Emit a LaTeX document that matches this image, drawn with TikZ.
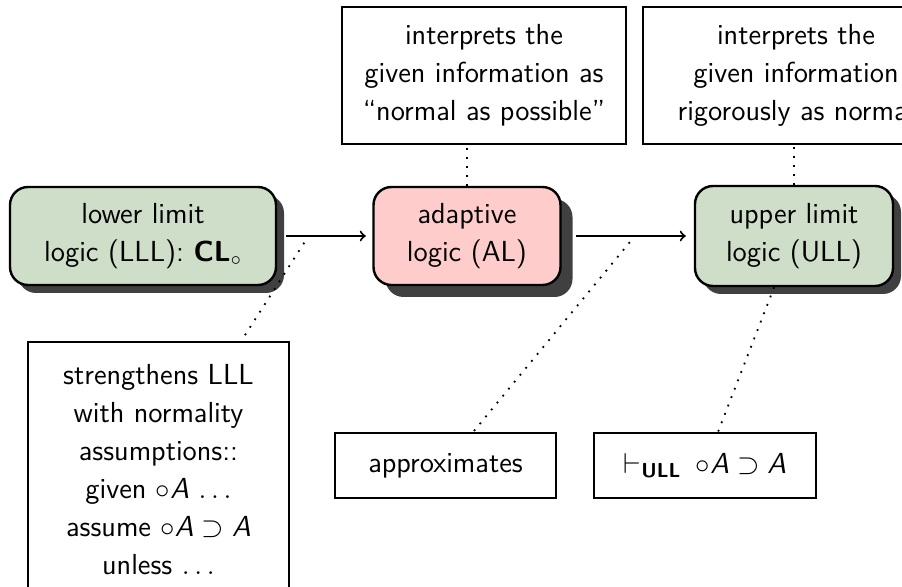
\documentclass[tikz,border=0pt]{standalone}
\usepackage{amsmath}
\usetikzlibrary{shadows}
\definecolor{llgreen}{RGB}{206,222,200}
\definecolor{alpink}{RGB}{255,204,204}
\definecolor{shadowgray}{RGB}{64,64,64}
\begin{document}
\begin{tikzpicture}[x=0.5pt,y=-0.5pt,
  font=\sffamily\fontsize{14.5}{19}\selectfont,
  logicbox/.style={draw=black, line width=1.2pt, rounded corners=9pt, align=center, inner sep=0pt,
    drop shadow={shadow xshift=#1, shadow yshift=-#1, fill=shadowgray, opacity=1}},
  logicbox/.default=4pt,
  notebox/.style={draw=black, line width=0.8pt, fill=white, align=center, inner sep=0pt},
  link/.style={line width=0.9pt, dash pattern=on 0.9pt off 3.6pt},
  flow/.style={->, line width=1pt}]
\useasboundingbox (0,0) rectangle (902,587);
\clip (0,0) rectangle (902,587);

\node[logicbox, fill=llgreen, minimum width=133pt, minimum height=49pt] (lll) at (143,236)
  {lower limit\\logic (LLL): \textbf{CL}$_\circ$};
\node[logicbox=6pt, fill=alpink, minimum width=93.5pt, minimum height=49pt] (al) at (467,236)
  {adaptive\\logic (AL)};
\node[logicbox, fill=llgreen, minimum width=99pt, minimum height=50pt] (ull) at (794,236)
  {upper limit\\logic (ULL)};

\node[notebox, minimum width=142pt, minimum height=68.5pt] (top1) at (484,75.5)
  {interprets the\\given information as\\``normal as possible''};
\node[notebox, minimum width=153pt, minimum height=68.5pt] (top2) at (796,75.5)
  {interprets the\\given information\\rigorously as normal};
\node[notebox, minimum width=130.5pt, minimum height=128pt] (strength) at (158.5,470)
  {strengthens LLL\\with normality\\assumptions::\\given $\circ\textit{A}$ $\ldots$\\assume $\circ\textit{A}\supset\textit{A}$\\unless $\ldots$};
\node[notebox, minimum width=110.5pt, minimum height=32.5pt] (approx) at (445.5,465.5)
  {approximates};
\node[notebox, minimum width=111pt, minimum height=32.5pt] (ulllab) at (705,465.5)
  {$\vdash_{\text{\bfseries ULL}}\:\circ\textit{A}\supset\textit{A}$};

\draw[flow, shorten <=4.5pt, shorten >=3.25pt] (lll.east) -- (al.west) coordinate[pos=0.33] (p1);
\draw[flow, shorten <=7.25pt, shorten >=4pt] (al.east) -- (ull.west) coordinate[pos=0.554] (p2);

\draw[link, shorten <=4pt] (p1) -- (strength);
\draw[link, shorten <=4pt] (p2) -- (approx);
\draw[link] (ull) -- (ulllab);
\draw[link] (al.north) -- (al.north |- top1.south);
\draw[link] (ull.north) -- (ull.north |- top2.south);
\end{tikzpicture}
\end{document}
